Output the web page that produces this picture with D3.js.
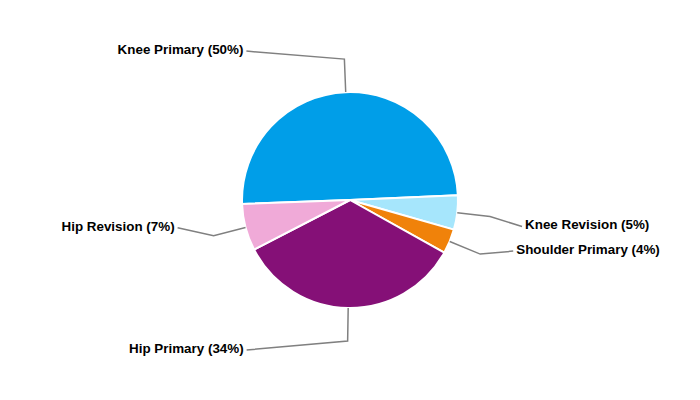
<!DOCTYPE html>
<html>
<head>
<meta charset="utf-8">
<script src="https://cdn.jsdelivr.net/npm/d3@7"></script>
<style>
  html, body { margin: 0; padding: 0; background: #fff; }
  svg { display: block; }
</style>
</head>
<body>
<svg id="chart" width="700" height="400"></svg>
<script>
const categories = ["Knee Primary", "Knee Revision", "Shoulder Primary", "Hip Primary", "Hip Revision"];
const values = [49.9, 5.1, 3.7, 34.3, 7.0];
const labels = ["Knee Primary (50%)", "Knee Revision (5%)", "Shoulder Primary (4%)", "Hip Primary (34%)", "Hip Revision (7%)"];
const colors = ["#009ee8", "#a6e6fc", "#f0820a", "#851077", "#f0aad8"];

// layout (label connector offsets from the elbow point)
const labelOffsets = [[-98, -8], [32, 10], [33, -3], [-101, 9], [-36, -8]];

const W = 700, H = 400, cx = 350, cy = 200, R = 108, Rout = 141;
const svg = d3.select("#chart");
const g = svg.append("g").attr("transform", `translate(${cx},${cy})`);

const data = categories.map((c, i) => ({ name: c, value: values[i], label: labels[i], color: colors[i], off: labelOffsets[i] }));

const startA = -92.1 * Math.PI / 180;
const pie = d3.pie().value(d => d.value).sort(null)
  .startAngle(startA).endAngle(startA + 2 * Math.PI);
const arcs = pie(data);

const arc = d3.arc().innerRadius(0).outerRadius(R);
const edgeArc = d3.arc().innerRadius(R).outerRadius(R);
const outArc = d3.arc().innerRadius(Rout).outerRadius(Rout);

g.selectAll("path.slice").data(arcs).enter().append("path")
  .attr("class", "slice")
  .attr("d", arc)
  .attr("fill", d => d.data.color)
  .attr("stroke", "#fff")
  .attr("stroke-width", 2)
  .attr("stroke-linejoin", "round");

arcs.forEach(a => {
  const p0 = edgeArc.centroid(a);
  const p1 = outArc.centroid(a);
  const p2 = [p1[0] + a.data.off[0], p1[1] + a.data.off[1]];
  g.append("polyline")
    .attr("points", [p0, p1, p2].map(p => p.join(",")).join(" "))
    .attr("fill", "none")
    .attr("stroke", "#808080")
    .attr("stroke-width", 1.5);
  const right = p2[0] > p1[0];
  g.append("text")
    .attr("x", p2[0] + (right ? 3 : -3))
    .attr("y", p2[1])
    .attr("dy", "0.22em")
    .attr("text-anchor", right ? "start" : "end")
    .attr("font-family", "Liberation Sans, Arial, sans-serif")
    .attr("font-weight", "bold")
    .attr("font-size", "13.4px")
    .attr("fill", "#000")
    .text(a.data.label);
});
</script>
</body>
</html>
